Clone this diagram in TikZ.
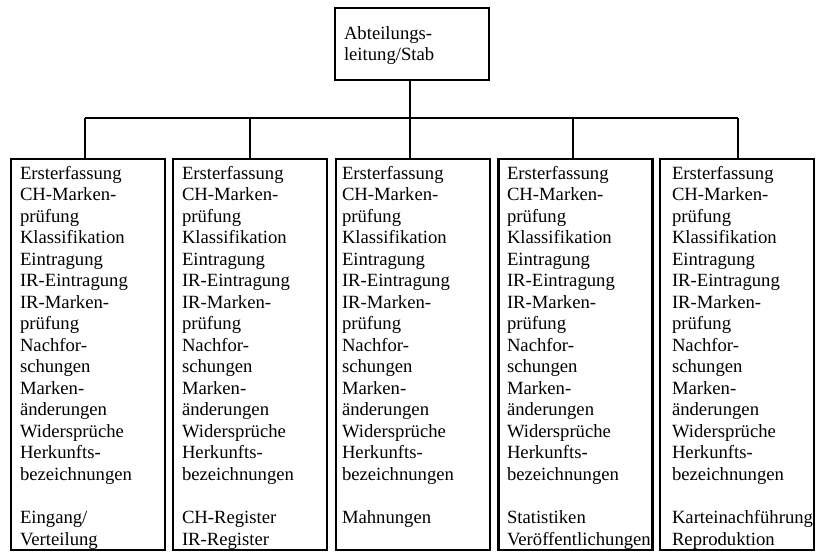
\documentclass[tikz,border=0pt]{standalone}
\usepackage{fontspec}
\setmainfont{Liberation Serif}
\newcommand\abtlist{Ersterfassung\\CH-Marken-\\prüfung\\Klassifikation\\Eintragung\\IR-Eintragung\\IR-Marken-\\prüfung\\Nachfor-\\schungen\\Marken-\\änderungen\\Widersprüche\\Herkunfts-\\bezeichnungen\\\mbox{}\\}
\newcommand\coltext[1]{\parbox[t]{150pt}{\fontsize{14}{16.15}\selectfont\raggedright #1}}
\begin{document}
\begin{tikzpicture}[x=0.75pt,y=-0.75pt,
  unitbox/.style={draw=black,line width=2.2pt,inner sep=0pt,outer sep=0pt,
    minimum width=115.5pt},
  colbox/.style={unitbox,minimum height=293.25pt},
  headbox/.style={unitbox,minimum height=54pt},
  label/.style={inner sep=0pt,outer sep=0pt,anchor=base west},
  wire/.style={line width=1.5pt}]
\useasboundingbox (0,0) rectangle (816,553);
% head unit
\node[headbox] (top) at (412,44) {};
\node[label] (toptext) at (344,39) {\coltext{Abteilungs-\\leitung/Stab}};
% departments
\node[colbox] (b1) at (88,354.5) {};
\node[colbox] (b2) at (250,354.5) {};
\node[colbox] (b3) at (413,354.5) {};
\node[colbox] (b4) at (575.5,354.5) {};
\node[colbox] (b5) at (737,354.5) {};
\node[label] (t1) at (20,179) {\coltext{\abtlist Eingang/\\Verteilung}};
\node[label] (t2) at (182,179) {\coltext{\abtlist CH-Register\\IR-Register}};
\node[label] (t3) at (342,179) {\coltext{\abtlist Mahnungen}};
\node[label] (t4) at (507,179) {\coltext{\abtlist Statistiken\\Veröffentlichungen}};
\node[label] (t5) at (672,179) {\coltext{\abtlist Karteinachführung\\Reproduktion}};
% bus connectors
\coordinate (d1) at (85,118);
\coordinate (d2) at (250,118);
\coordinate (d3) at (410,118);
\coordinate (d4) at (573,118);
\coordinate (d5) at (738,118);
\draw[wire] (d1) -- (d5);
\draw[wire] (d3 |- top.south) -- (d3);
\draw[wire] (d1) -- (d1 |- b1.north);
\draw[wire] (d2) -- (d2 |- b2.north);
\draw[wire] (d3) -- (d3 |- b3.north);
\draw[wire] (d4) -- (d4 |- b4.north);
\draw[wire] (d5) -- (d5 |- b5.north);
\end{tikzpicture}
\end{document}
